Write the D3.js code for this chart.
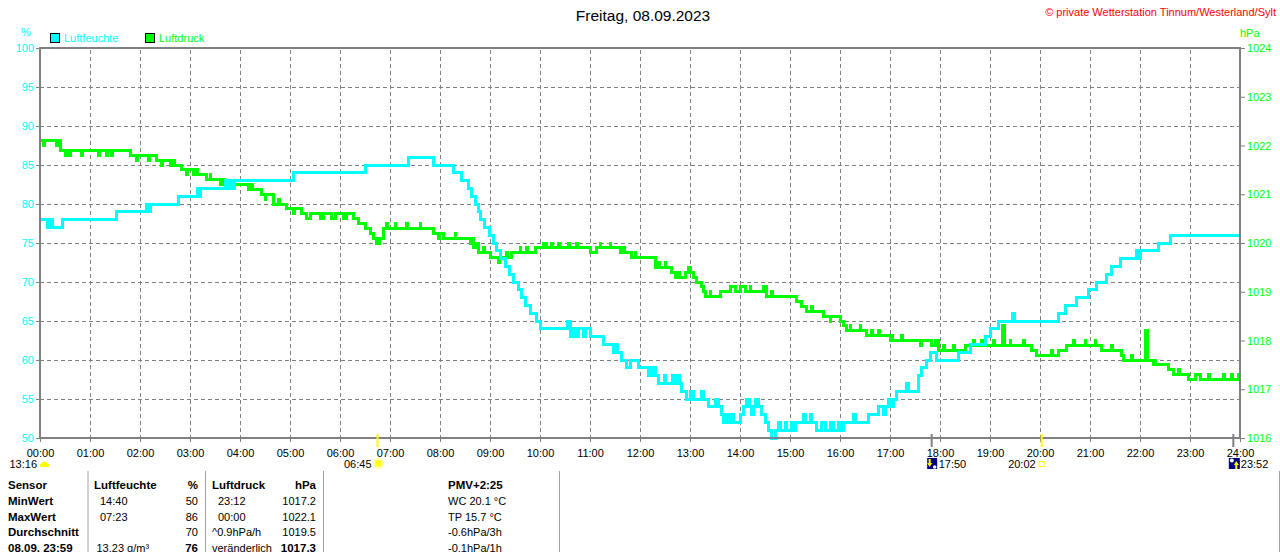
<!DOCTYPE html>
<html>
<head>
<meta charset="utf-8">
<script src="https://cdn.jsdelivr.net/npm/d3@7"></script>
<style>
  body { margin: 0; background: #fff; }
  svg { display: block; font-family: "Liberation Sans", Arial, sans-serif; }
</style>
</head>
<body>
<div id="chart"></div>
<script>
// ---- data ----
const title = 'Freitag, 08.09.2023';
const copyright = '\u00a9 private Wetterstation Tinnum/Westerland/Sylt';

const hourTicks = d3.range(0, 25);            // 00:00 .. 24:00
const humTicks = [50, 55, 60, 65, 70, 75, 80, 85, 90, 95, 100];
const presTicks = [1016, 1017, 1018, 1019, 1020, 1021, 1022, 1023, 1024];

// Luftfeuchte (%), step series [time, value]
const humidity = [
  ['00:00', 78], ['00:09', 77], ['00:11', 78], ['00:12', 77], ['00:14', 78], ['00:15', 77], ['00:27', 78],
  ['01:32', 79], ['02:08', 80], ['02:10', 79], ['02:13', 80], ['02:46', 81], ['03:09', 82], ['03:11', 81],
  ['03:13', 82], ['03:42', 83], ['03:45', 82], ['03:48', 83], ['03:50', 82], ['03:53', 83], ['05:04', 84],
  ['06:30', 85], ['07:22', 86], ['07:52', 85], ['08:16', 84], ['08:26', 83], ['08:34', 82], ['08:38', 81],
  ['08:42', 80], ['08:46', 79], ['08:49', 78], ['08:53', 77], ['08:59', 76], ['09:04', 75], ['09:08', 74],
  ['09:13', 73], ['09:18', 72], ['09:23', 71], ['09:28', 70], ['09:34', 69], ['09:38', 68], ['09:43', 67],
  ['09:49', 66], ['09:56', 65], ['10:01', 64], ['10:33', 65], ['10:36', 63], ['10:40', 64], ['10:44', 63],
  ['10:46', 64], ['10:52', 63], ['10:54', 64], ['11:00', 63], ['11:16', 62], ['11:28', 61], ['11:30', 62],
  ['11:33', 61], ['11:38', 60], ['11:44', 59], ['11:48', 60], ['11:58', 59], ['12:10', 58], ['12:12', 59],
  ['12:14', 58], ['12:17', 59], ['12:19', 58], ['12:22', 57], ['12:29', 58], ['12:31', 57], ['12:39', 58],
  ['12:41', 57], ['12:45', 58], ['12:47', 57], ['12:50', 56], ['12:56', 55], ['13:00', 56], ['13:04', 55],
  ['13:14', 56], ['13:16', 55], ['13:22', 54], ['13:30', 55], ['13:34', 54], ['13:38', 53], ['13:40', 52],
  ['13:44', 53], ['13:46', 52], ['13:50', 53], ['13:52', 52], ['14:00', 53], ['14:04', 54], ['14:08', 55],
  ['14:11', 54], ['14:14', 53], ['14:16', 54], ['14:18', 55], ['14:22', 54], ['14:26', 53], ['14:30', 52],
  ['14:34', 51], ['14:38', 50], ['14:42', 51], ['14:46', 52], ['14:48', 51], ['14:54', 52], ['14:56', 51],
  ['15:02', 52], ['15:04', 51], ['15:06', 52], ['15:16', 53], ['15:18', 52], ['15:24', 53], ['15:26', 52],
  ['15:32', 51], ['15:38', 52], ['15:42', 51], ['15:48', 52], ['15:52', 51], ['15:58', 52], ['16:00', 51],
  ['16:04', 52], ['16:16', 53], ['16:18', 52], ['16:34', 53], ['16:46', 54], ['16:52', 53], ['16:54', 54],
  ['16:58', 55], ['17:00', 54], ['17:04', 55], ['17:08', 56], ['17:20', 57], ['17:22', 56], ['17:34', 58],
  ['17:38', 59], ['17:44', 60], ['17:48', 61], ['17:56', 60], ['18:22', 61], ['18:36', 62], ['18:54', 63],
  ['19:00', 64], ['19:10', 65], ['19:27', 66], ['19:29', 65], ['20:22', 66], ['20:30', 67], ['20:44', 68],
  ['20:58', 69], ['21:08', 70], ['21:20', 71], ['21:26', 72], ['21:36', 73], ['21:56', 74], ['21:58', 73],
  ['22:00', 74], ['22:22', 75], ['22:36', 76], ['24:00', 76]
];

// Luftdruck (hPa), step series [time, value]
const pressure = [
  ['00:00', 1022.1], ['00:04', 1022.0], ['00:05', 1022.1], ['00:20', 1022.0], ['00:21', 1022.1], ['00:25', 1021.9],
  ['00:30', 1021.8], ['00:33', 1021.9], ['00:36', 1021.8], ['00:37', 1021.9], ['00:50', 1021.8], ['00:51', 1021.9],
  ['01:10', 1021.8], ['01:11', 1021.9], ['01:20', 1021.8], ['01:21', 1021.9], ['01:26', 1021.8], ['01:27', 1021.9],
  ['01:48', 1021.8], ['01:56', 1021.7], ['01:57', 1021.8], ['02:10', 1021.7], ['02:11', 1021.8], ['02:20', 1021.7],
  ['02:26', 1021.6], ['02:27', 1021.7], ['02:36', 1021.6], ['02:40', 1021.7], ['02:41', 1021.6], ['02:50', 1021.5],
  ['02:56', 1021.4], ['02:57', 1021.5], ['03:04', 1021.4], ['03:08', 1021.5], ['03:09', 1021.4], ['03:20', 1021.3],
  ['03:24', 1021.4], ['03:25', 1021.3], ['03:36', 1021.2], ['03:40', 1021.3], ['03:41', 1021.2], ['04:10', 1021.1],
  ['04:14', 1021.2], ['04:15', 1021.1], ['04:26', 1021.0], ['04:30', 1020.9], ['04:31', 1021.0], ['04:40', 1020.8],
  ['04:46', 1020.9], ['04:47', 1020.8], ['04:56', 1020.7], ['05:04', 1020.6], ['05:05', 1020.7], ['05:14', 1020.6],
  ['05:20', 1020.5], ['05:24', 1020.6], ['05:36', 1020.5], ['05:40', 1020.6], ['05:50', 1020.5], ['05:54', 1020.6],
  ['06:04', 1020.5], ['06:08', 1020.6], ['06:16', 1020.5], ['06:22', 1020.4], ['06:30', 1020.3], ['06:36', 1020.2],
  ['06:40', 1020.1], ['06:44', 1020.0], ['06:47', 1020.1], ['06:52', 1020.3], ['06:56', 1020.4], ['06:57', 1020.3],
  ['07:06', 1020.4], ['07:07', 1020.3], ['07:20', 1020.4], ['07:21', 1020.3], ['07:36', 1020.4], ['07:37', 1020.3],
  ['07:52', 1020.2], ['07:58', 1020.1], ['07:59', 1020.2], ['08:04', 1020.1], ['08:18', 1020.2], ['08:19', 1020.1],
  ['08:36', 1020.0], ['08:38', 1020.1], ['08:40', 1019.9], ['08:44', 1020.0], ['08:46', 1019.8], ['08:52', 1019.9],
  ['08:53', 1019.8], ['09:00', 1019.7], ['09:10', 1019.6], ['09:11', 1019.7], ['09:20', 1019.8], ['09:21', 1019.7],
  ['09:26', 1019.8], ['09:36', 1019.9], ['09:37', 1019.8], ['09:44', 1019.9], ['09:45', 1019.8], ['09:54', 1019.9],
  ['10:04', 1020.0], ['10:08', 1019.9], ['10:14', 1020.0], ['10:15', 1019.9], ['10:22', 1020.0], ['10:23', 1019.9],
  ['10:34', 1020.0], ['10:35', 1019.9], ['10:44', 1020.0], ['10:45', 1019.9], ['11:00', 1019.8], ['11:08', 1019.9],
  ['11:12', 1020.0], ['11:13', 1019.9], ['11:24', 1020.0], ['11:25', 1019.9], ['11:36', 1019.8], ['11:40', 1019.9],
  ['11:41', 1019.8], ['11:50', 1019.7], ['11:54', 1019.8], ['11:55', 1019.7], ['12:18', 1019.5], ['12:22', 1019.6],
  ['12:23', 1019.5], ['12:30', 1019.6], ['12:31', 1019.5], ['12:38', 1019.4], ['12:42', 1019.3], ['12:46', 1019.4],
  ['12:47', 1019.3], ['12:54', 1019.4], ['12:58', 1019.5], ['13:00', 1019.4], ['13:04', 1019.3], ['13:08', 1019.2],
  ['13:14', 1019.1], ['13:16', 1019.0], ['13:18', 1018.9], ['13:24', 1019.0], ['13:25', 1018.9], ['13:36', 1019.0],
  ['13:48', 1019.1], ['13:54', 1019.0], ['14:00', 1019.1], ['14:06', 1019.0], ['14:12', 1019.1], ['14:13', 1019.0],
  ['14:28', 1019.1], ['14:32', 1018.9], ['14:38', 1019.0], ['14:39', 1018.9], ['15:08', 1018.8], ['15:14', 1018.7],
  ['15:20', 1018.6], ['15:26', 1018.7], ['15:27', 1018.6], ['15:40', 1018.5], ['15:48', 1018.4], ['15:49', 1018.5],
  ['16:00', 1018.4], ['16:04', 1018.3], ['16:08', 1018.2], ['16:12', 1018.3], ['16:13', 1018.2], ['16:24', 1018.3],
  ['16:25', 1018.2], ['16:32', 1018.1], ['16:38', 1018.2], ['16:39', 1018.1], ['16:46', 1018.2], ['16:47', 1018.1],
  ['17:00', 1018.0], ['17:02', 1018.1], ['17:03', 1018.0], ['17:14', 1018.1], ['17:15', 1018.0], ['17:36', 1017.9],
  ['17:38', 1018.0], ['17:50', 1017.9], ['17:54', 1018.0], ['17:58', 1017.8], ['18:04', 1017.9], ['18:05', 1017.8],
  ['18:16', 1017.9], ['18:17', 1017.8], ['18:30', 1017.9], ['18:40', 1018.0], ['18:41', 1017.9], ['18:50', 1018.0],
  ['18:51', 1017.9], ['19:04', 1018.0], ['19:05', 1017.9], ['19:15', 1018.3], ['19:17', 1017.9], ['19:24', 1018.0],
  ['19:25', 1017.9], ['19:40', 1018.0], ['19:41', 1017.9], ['19:50', 1017.8], ['19:56', 1017.7], ['20:14', 1017.8],
  ['20:15', 1017.7], ['20:22', 1017.8], ['20:32', 1017.9], ['20:40', 1018.0], ['20:41', 1017.9], ['20:54', 1018.0],
  ['20:55', 1017.9], ['21:06', 1018.0], ['21:07', 1017.9], ['21:14', 1017.8], ['21:26', 1017.9], ['21:27', 1017.8],
  ['21:38', 1017.7], ['21:40', 1017.6], ['21:50', 1017.7], ['21:51', 1017.6], ['22:07', 1018.2], ['22:09', 1017.6],
  ['22:16', 1017.5], ['22:18', 1017.6], ['22:19', 1017.5], ['22:34', 1017.4], ['22:40', 1017.3], ['22:46', 1017.4],
  ['22:47', 1017.3], ['22:58', 1017.2], ['23:06', 1017.3], ['23:12', 1017.2], ['23:22', 1017.3], ['23:23', 1017.2],
  ['23:40', 1017.3], ['23:41', 1017.2], ['23:50', 1017.3], ['23:51', 1017.2], ['23:58', 1017.3], ['24:00', 1017.3]
];

// sun / moon events under the time axis
const moonLeft = '13:16';
const sunrise = '06:45';
const sunset = '20:02';
const moonset = '17:50';
const moonrise = '23:52';

// table at the bottom
const tableHead = ['Sensor', 'Luftfeuchte', '%', 'Luftdruck', 'hPa', 'PMV+2:25'];
const rowLabels = ['MinWert', 'MaxWert', 'Durchschnitt', '08.09. 23:59'];
const humNotes = ['14:40', '07:23', '', '13.23 g/m\u00b3'];
const humCells = ['50', '86', '70', '76'];
const presNotes = ['23:12', '00:00', '^0.9hPa/h', 'ver\u00e4nderlich'];
const presCells = ['1017.2', '1022.1', '1019.5', '1017.3'];
const extraInfo = ['WC 20.1 \u00b0C', 'TP 15.7 \u00b0C', '-0.6hPa/3h', '-0.1hPa/1h'];

// ---- drawing ----
const width = 1280, height = 552;
const cyan = '#00ffff', lime = '#00ff00', gray = '#808080';
const toH = t => { const [h, m] = t.split(':').map(Number); return h + m / 60; };

const x = d3.scaleLinear().domain([0, 24]).range([40, 1240]);
const yHum = d3.scaleLinear().domain([50, 100]).range([438, 48]);
const yPres = d3.scaleLinear().domain([1016, 1024]).range([438, 48]);

const svg = d3.select('#chart').append('svg')
  .attr('width', width)
  .attr('height', height);

svg.append('rect').attr('width', width).attr('height', height).attr('fill', '#fff');

// title + copyright
svg.append('text')
  .attr('x', 643).attr('y', 21)
  .attr('text-anchor', 'middle')
  .attr('font-size', 15.5)
  .attr('fill', '#000')
  .text(title);
svg.append('text')
  .attr('x', 1276).attr('y', 16)
  .attr('text-anchor', 'end')
  .attr('font-size', 11)
  .attr('fill', '#ff0000')
  .text(copyright);

// grid
const grid = svg.append('g')
  .attr('stroke', gray)
  .attr('stroke-width', 1)
  .attr('stroke-dasharray', '4,3')
  .attr('shape-rendering', 'crispEdges');
grid.selectAll('.vg').data(hourTicks.slice(1, -1)).enter().append('line')
  .attr('x1', d => x(d)).attr('x2', d => x(d))
  .attr('y1', yHum(100) + 2).attr('y2', yHum(50));
grid.selectAll('.hg').data(humTicks.slice(1, -1)).enter().append('line')
  .attr('x1', x(0)).attr('x2', x(24))
  .attr('y1', d => yHum(d)).attr('y2', d => yHum(d));

// axes (ticks + labels)
const axisLeft = svg.append('g')
  .attr('transform', `translate(${x(0)},0)`)
  .call(d3.axisLeft(yHum).tickValues(humTicks).tickSize(4).tickPadding(2).tickFormat(d3.format('d')));
const axisRight = svg.append('g')
  .attr('transform', `translate(${x(24)},0)`)
  .call(d3.axisRight(yPres).tickValues(presTicks).tickSize(5).tickPadding(2).tickFormat(d3.format('d')));
const axisBottom = svg.append('g')
  .attr('transform', `translate(0,${yHum(50)})`)
  .call(d3.axisBottom(x).tickValues(hourTicks).tickSize(4)
    .tickFormat(d => d3.format('02d')(d) + ':00'));

[axisLeft, axisRight, axisBottom].forEach(a => {
  a.select('.domain').remove();
  a.selectAll('line').attr('stroke', gray);
  a.selectAll('text').attr('font-family', '"Liberation Sans", Arial, sans-serif').attr('font-size', 11);
});
axisLeft.selectAll('text').attr('fill', cyan);
axisRight.selectAll('text').attr('fill', lime);
axisBottom.selectAll('text').attr('fill', '#000').attr('dy', null).attr('y', 18.5);

// units
svg.append('text').attr('x', 26).attr('y', 36).attr('text-anchor', 'middle')
  .attr('font-size', 11).attr('fill', cyan).text('%');
svg.append('text').attr('x', 1240).attr('y', 37)
  .attr('font-size', 11).attr('fill', lime).text('hPa');

// legend
const legend = [['Luftfeuchte', cyan, 50], ['Luftdruck', lime, 145]];
legend.forEach(([name, col, lx]) => {
  svg.append('rect').attr('x', lx + 0.5).attr('y', 33.5).attr('width', 9).attr('height', 9)
    .attr('fill', col).attr('stroke', '#000').attr('stroke-width', 1);
  svg.append('text').attr('x', lx + 14).attr('y', 42)
    .attr('font-size', 11).attr('fill', col).text(name);
});

// series
const line = (y) => d3.line()
  .x(d => x(toH(d[0])))
  .y(d => y(d[1]))
  .curve(d3.curveStepAfter);

svg.append('path')
  .datum(pressure)
  .attr('d', line(yPres))
  .attr('fill', 'none')
  .attr('stroke', lime)
  .attr('stroke-width', 3)
  .attr('shape-rendering', 'crispEdges');
svg.append('path')
  .datum(humidity)
  .attr('d', line(yHum))
  .attr('fill', 'none')
  .attr('stroke', cyan)
  .attr('stroke-width', 3)
  .attr('shape-rendering', 'crispEdges');

// frame
const frame = svg.append('g').attr('stroke', gray).attr('stroke-width', 2).attr('shape-rendering', 'crispEdges');
frame.append('line').attr('x1', x(0)).attr('x2', x(24)).attr('y1', yHum(100)).attr('y2', yHum(100));
frame.append('line').attr('x1', x(0)).attr('x2', x(24)).attr('y1', yHum(50)).attr('y2', yHum(50));
frame.append('line').attr('x1', x(0)).attr('x2', x(0)).attr('y1', yHum(100) - 1).attr('y2', yHum(50) + 1);
frame.append('line').attr('x1', x(24)).attr('x2', x(24)).attr('y1', yHum(100) - 1).attr('y2', yHum(50) + 1);

// sun / moon markers
const mark = (t, col) => svg.append('line')
  .attr('x1', x(toH(t))).attr('x2', x(toH(t)))
  .attr('y1', yHum(50) - 4).attr('y2', yHum(50) + 9)
  .attr('stroke', col).attr('stroke-width', 2);
mark(sunrise, '#ffff00');
mark(sunset, '#ffff00');
mark(moonset, gray);
mark(moonrise, gray);

const evText = (str, xx, anchor) => svg.append('text')
  .attr('x', xx).attr('y', 468).attr('text-anchor', anchor)
  .attr('font-size', 11).attr('fill', '#000').text(str);

// moon (left edge)
evText(moonLeft, x(0) - 3, 'end');
svg.append('path')
  .attr('d', `M${x(0)},467 L${x(0)},464.5 Q${x(0) + 4.5},458.5 ${x(0) + 9},464.5 L${x(0) + 9},467 Z`)
  .attr('fill', '#ffff00');

// sunrise
const sx = x(toH(sunrise)) + 1;
evText(sunrise, sx - 7, 'end');
svg.append('circle').attr('cx', sx).attr('cy', 463.5).attr('r', 5)
  .attr('fill', '#ffffc0').attr('stroke', '#ffff80').attr('stroke-width', 1);
svg.append('circle').attr('cx', sx).attr('cy', 463.5).attr('r', 3.2).attr('fill', '#ffff00');

// sunset
const ssx = x(toH(sunset));
evText(sunset, ssx - 6, 'end');
svg.append('rect').attr('x', ssx - 2.5).attr('y', 461.5).attr('width', 5).attr('height', 5)
  .attr('fill', 'none').attr('stroke', '#ffff00').attr('stroke-width', 1);

// moonset
const msx = x(toH(moonset));
svg.append('rect').attr('x', msx - 4.5).attr('y', 458).attr('width', 10).attr('height', 11).attr('fill', '#000080');
svg.append('path').attr('d', `M${msx - 3},459 L${msx - 3},463 L${msx - 4.5},463 L${msx - 2},467 L${msx + 0.5},463 L${msx - 1},463 L${msx - 1},459 Z`)
  .attr('fill', '#ffff00');
svg.append('circle').attr('cx', msx + 3).attr('cy', 467).attr('r', 1.8).attr('fill', '#fff');
evText(moonset, msx + 7, 'start');

// moonrise
const mrx = x(toH(moonrise));
svg.append('rect').attr('x', mrx - 4.5).attr('y', 458).attr('width', 11).attr('height', 11).attr('fill', '#000080');
svg.append('circle').attr('cx', mrx - 1.5).attr('cy', 460.5).attr('r', 2).attr('fill', '#fff');
svg.append('path').attr('d', `M${mrx + 2},469 L${mrx + 2},465 L${mrx + 0.5},465 L${mrx + 3},461 L${mrx + 5.5},465 L${mrx + 4},465 L${mrx + 4},469 Z`)
  .attr('fill', '#ffff00');
evText(moonrise, mrx + 7.5, 'start');

// table
const seps = [88, 205.5, 323.5, 559.5, 1279.5];
svg.append('g').selectAll('line').data(seps).enter().append('line')
  .attr('x1', d => d).attr('x2', d => d)
  .attr('y1', 471).attr('y2', height)
  .attr('stroke', '#a0a0a0').attr('stroke-width', 1);

const rowY = [488.5, 504.5, 520.5, 536, 551.5];
const cell = (str, cx, cy, opts = {}) => svg.append('text')
  .attr('x', cx).attr('y', cy)
  .attr('text-anchor', opts.anchor || 'start')
  .attr('font-size', opts.bold ? 11.5 : 11)
  .attr('font-weight', opts.bold ? 'bold' : 'normal')
  .attr('fill', '#000')
  .text(str);

cell(tableHead[0], 8, rowY[0], { bold: true });
cell(tableHead[1], 94, rowY[0], { bold: true });
cell(tableHead[2], 198, rowY[0], { bold: true, anchor: 'end' });
cell(tableHead[3], 212, rowY[0], { bold: true });
cell(tableHead[4], 316, rowY[0], { bold: true, anchor: 'end' });
cell(tableHead[5], 448, rowY[0], { bold: true });

const isTime = s => /^\d\d:\d\d$/.test(s);
rowLabels.forEach((lab, i) => {
  const yy = rowY[i + 1];
  const last = i === rowLabels.length - 1;
  cell(lab, 8, yy, { bold: true });
  cell(humNotes[i], isTime(humNotes[i]) ? 100 : 96.5, yy);
  cell(humCells[i], 198, yy, { anchor: 'end', bold: last });
  cell(presNotes[i], isTime(presNotes[i]) ? 218 : 212, yy);
  cell(presCells[i], 316, yy, { anchor: 'end', bold: last });
  cell(extraInfo[i], 448, yy);
});
</script>
</body>
</html>
